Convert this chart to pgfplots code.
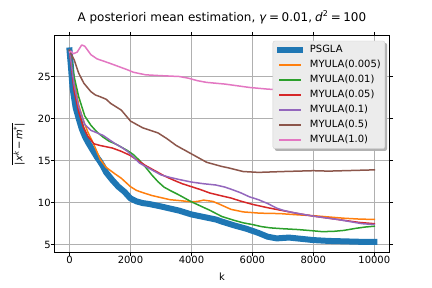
\documentclass[border=0pt]{standalone}
\usepackage{fontspec}
\setmainfont{DejaVu Sans}
\usepackage{pgfplots}
\pgfplotsset{compat=1.18}
\usetikzlibrary{backgrounds}
\definecolor{c0}{HTML}{1F77B4}
\definecolor{c1}{HTML}{FF7F0E}
\definecolor{c2}{HTML}{2CA02C}
\definecolor{c3}{HTML}{D62728}
\definecolor{c4}{HTML}{9467BD}
\definecolor{c5}{HTML}{8C564B}
\definecolor{c6}{HTML}{E377C2}
\definecolor{gridgray}{HTML}{B0B0B0}
\definecolor{legedge}{HTML}{D0D0D0}
\definecolor{legfill}{HTML}{ECECEC}
\begin{document}
\begin{tikzpicture}
\path[use as bounding box] (0,0) rectangle (432bp,288bp);
\begin{axis}[
  at={(54.3bp,35.3bp)}, anchor=south west, scale only axis,
  width=335.2bp, height=217.4bp,
  xmin=-500, xmax=10500, ymin=4.05, ymax=29.9,
  xtick={0,2000,4000,6000,8000,10000}, ytick={5,10,15,20,25},
  scaled ticks=false,
  /pgf/number format/1000 sep={},
  /pgf/number format/assume math mode=true,
  tick align=outside, major tick length=3.5bp,
  tick style={black, line width=0.8bp},
  axis line style={black, line width=0.8bp},
  grid=major, major grid style={color=gridgray, line width=0.8bp},
  tick label style={font=\fontsize{10}{12}\selectfont, inner sep=0pt},
  xticklabel style={anchor=north},
  yticklabel style={anchor=east},
  title={A posteriori mean estimation, \textit{γ}\kern2.5pt=\kern2.5pt0.01,\kern3pt\textit{d}\textsuperscript{2}\kern2.5pt=\kern2.5pt100},
  title style={at={(axis description cs:0.5,1)}, anchor=base, yshift=8.3bp, inner sep=0pt, font=\fontsize{12}{14}\selectfont},
  xlabel={k},
  xlabel style={at={(axis description cs:0.5,0)}, anchor=north, yshift=-20.5bp, inner sep=0pt, font=\fontsize{10}{12}\selectfont},
  ylabel={$\overline{\mbox{\textbar\textit{x}\textsuperscript{\textit{k}}\kern1.5pt−\kern1.5pt\textit{m}\textsuperscript{*}\textbar}}$},
  ylabel style={at={(axis description cs:-0.0874,0.5)}, rotate=0, anchor=south, inner sep=0pt, font=\fontsize{10}{12}\selectfont},
  every axis plot/.append style={line join=round, line cap=rect},
  legend image code/.code={\draw[#1] (0bp,0bp) -- (20bp,0bp);},
  legend cell align=left,
  legend style={name=leg, at={(axis description cs:1,1)}, anchor=north east, xshift=-4.5bp, yshift=-5.5bp,
    fill=legfill, draw=legedge,
    rounded corners=2bp, inner sep=4bp, row sep=5.3bp, column sep=7bp,
    font=\fontsize{10}{12}\selectfont,
    nodes={inner sep=0pt, text height=7.5bp, text depth=2.2bp}},
]
\addplot[c0, line width=6bp] coordinates {
(0,28.1) (50,26.0) (100,23.6) (200,21.3) (300,20.0) (400,18.8) (500,17.9) (600,17.2)
(700,16.6) (800,16.0) (900,15.4) (1000,14.9) (1100,14.3) (1200,13.6) (1400,12.7)
(1600,11.9) (1800,11.3) (2000,10.5) (2200,10.15) (2400,9.95) (2600,9.85) (2800,9.7)
(3000,9.55) (3300,9.3) (3600,9.05) (4000,8.6) (4400,8.3) (4800,8.0) (5000,7.75)
(5400,7.3) (5800,6.9) (6200,6.4) (6500,5.95) (6800,5.75) (7200,5.85) (7600,5.7)
(8000,5.55) (8500,5.45) (9000,5.4) (9500,5.35) (10000,5.35)};
\addlegendentry{PSGLA}
\addplot[c1, line width=1.5bp] coordinates {
(0,28.1) (150,24.5) (300,21.6) (450,19.8) (600,18.4) (800,16.9) (1000,15.2) (1200,14.2)
(1350,13.8) (1500,13.4) (1700,12.9) (1850,12.4) (2000,11.9) (2200,11.45) (2400,11.2)
(2700,10.85) (3000,10.6) (3300,10.35) (3600,10.25) (4000,10.1) (4200,10.15) (4400,10.3)
(4700,10.15) (4900,9.85) (5300,9.2) (5700,8.9) (6250,8.75) (6900,8.7) (7500,8.55)
(8000,8.45) (8500,8.3) (9000,8.15) (9500,8.05) (10000,8.0)};
\addlegendentry{MYULA(0.005)}
\addplot[c2, line width=1.5bp] coordinates {
(0,28.1) (150,25.0) (300,22.6) (500,20.3) (700,19.2) (900,18.4) (1100,17.8) (1300,17.3)
(1500,17.0) (1700,16.6) (1900,16.2) (2100,15.7) (2300,15.0) (2500,14.2) (2700,13.3)
(2900,12.5) (3100,11.85) (3300,11.45) (3600,10.9) (4000,10.1) (4300,9.6) (4600,9.1)
(5000,8.35) (5400,7.9) (5700,7.6) (6000,7.4) (6300,7.15) (6600,7.0) (7000,6.9)
(7500,6.8) (8000,6.65) (8300,6.55) (8700,6.6) (9000,6.7) (9400,6.95) (9700,7.1) (10000,7.2)};
\addlegendentry{MYULA(0.01)}
\addplot[c3, line width=1.5bp] coordinates {
(0,28.1) (150,23.3) (300,20.8) (450,19.0) (600,17.9) (800,17.0) (1000,16.8) (1200,16.65)
(1400,16.5) (1700,16.1) (2000,15.6) (2200,15.1) (2500,14.4) (2800,13.8) (3100,13.2)
(3400,12.7) (3700,12.25) (4000,11.9) (4300,11.55) (4600,11.15) (5000,10.8) (5300,10.55)
(5600,10.2) (6000,9.8) (6500,9.4) (7000,9.05) (7500,8.7) (8000,8.4) (8500,8.15)
(9000,7.9) (9500,7.65) (10000,7.5)};
\addlegendentry{MYULA(0.05)}
\addplot[c4, line width=1.5bp] coordinates {
(0,28.1) (150,24.0) (300,21.4) (500,19.3) (700,18.6) (900,18.3) (1100,18.0) (1300,17.5)
(1500,17.0) (1700,16.6) (1900,16.1) (2100,15.4) (2300,14.7) (2500,14.3) (2700,13.9)
(3000,13.3) (3300,13.0) (3600,12.75) (4000,12.45) (4400,12.25) (4800,12.1) (5100,11.85)
(5300,11.6) (5600,11.2) (5900,10.7) (6200,10.35) (6500,9.9) (6800,9.35) (7000,9.1)
(7300,8.85) (7600,8.65) (8000,8.4) (8400,8.2) (8800,8.0) (9200,7.75) (9600,7.5) (10000,7.4)};
\addlegendentry{MYULA(0.1)}
\addplot[c5, line width=1.5bp] coordinates {
(0,28.1) (30,27.8) (150,27.0) (300,25.4) (470,24.2) (700,23.2) (850,22.8) (1000,22.6)
(1200,22.3) (1350,21.8) (1700,21.0) (2000,19.7) (2400,18.9) (2900,18.3) (3200,17.6)
(3500,16.8) (4000,15.8) (4500,14.8) (5000,14.3) (5200,14.15) (5700,13.7) (6200,13.6)
(7000,13.7) (7500,13.75) (8000,13.8) (8500,13.75) (9000,13.8) (10000,13.9)};
\addlegendentry{MYULA(0.5)}
\addplot[c6, line width=1.5bp] coordinates {
(0,27.9) (50,28.0) (120,27.7) (250,27.9) (400,28.75) (500,28.6) (600,28.1) (700,27.6)
(900,27.1) (1100,26.85) (1300,26.6) (1600,26.2) (1900,25.8) (2100,25.5) (2500,25.2)
(3000,25.1) (3600,25.0) (3900,24.8) (4200,24.5) (4500,24.3) (5100,24.1) (5900,23.7)
(6500,23.5) (7500,23.3) (8500,23.1) (9200,23.0) (10000,22.9)};
\addlegendentry{MYULA(1.0)}
\end{axis}
\begin{pgfonlayer}{background}
\fill[black, opacity=0.3, rounded corners=2bp] ([shift={(2bp,-2bp)}]leg.south west) rectangle ([shift={(2bp,-2bp)}]leg.north east);
\end{pgfonlayer}
\end{tikzpicture}
\end{document}
